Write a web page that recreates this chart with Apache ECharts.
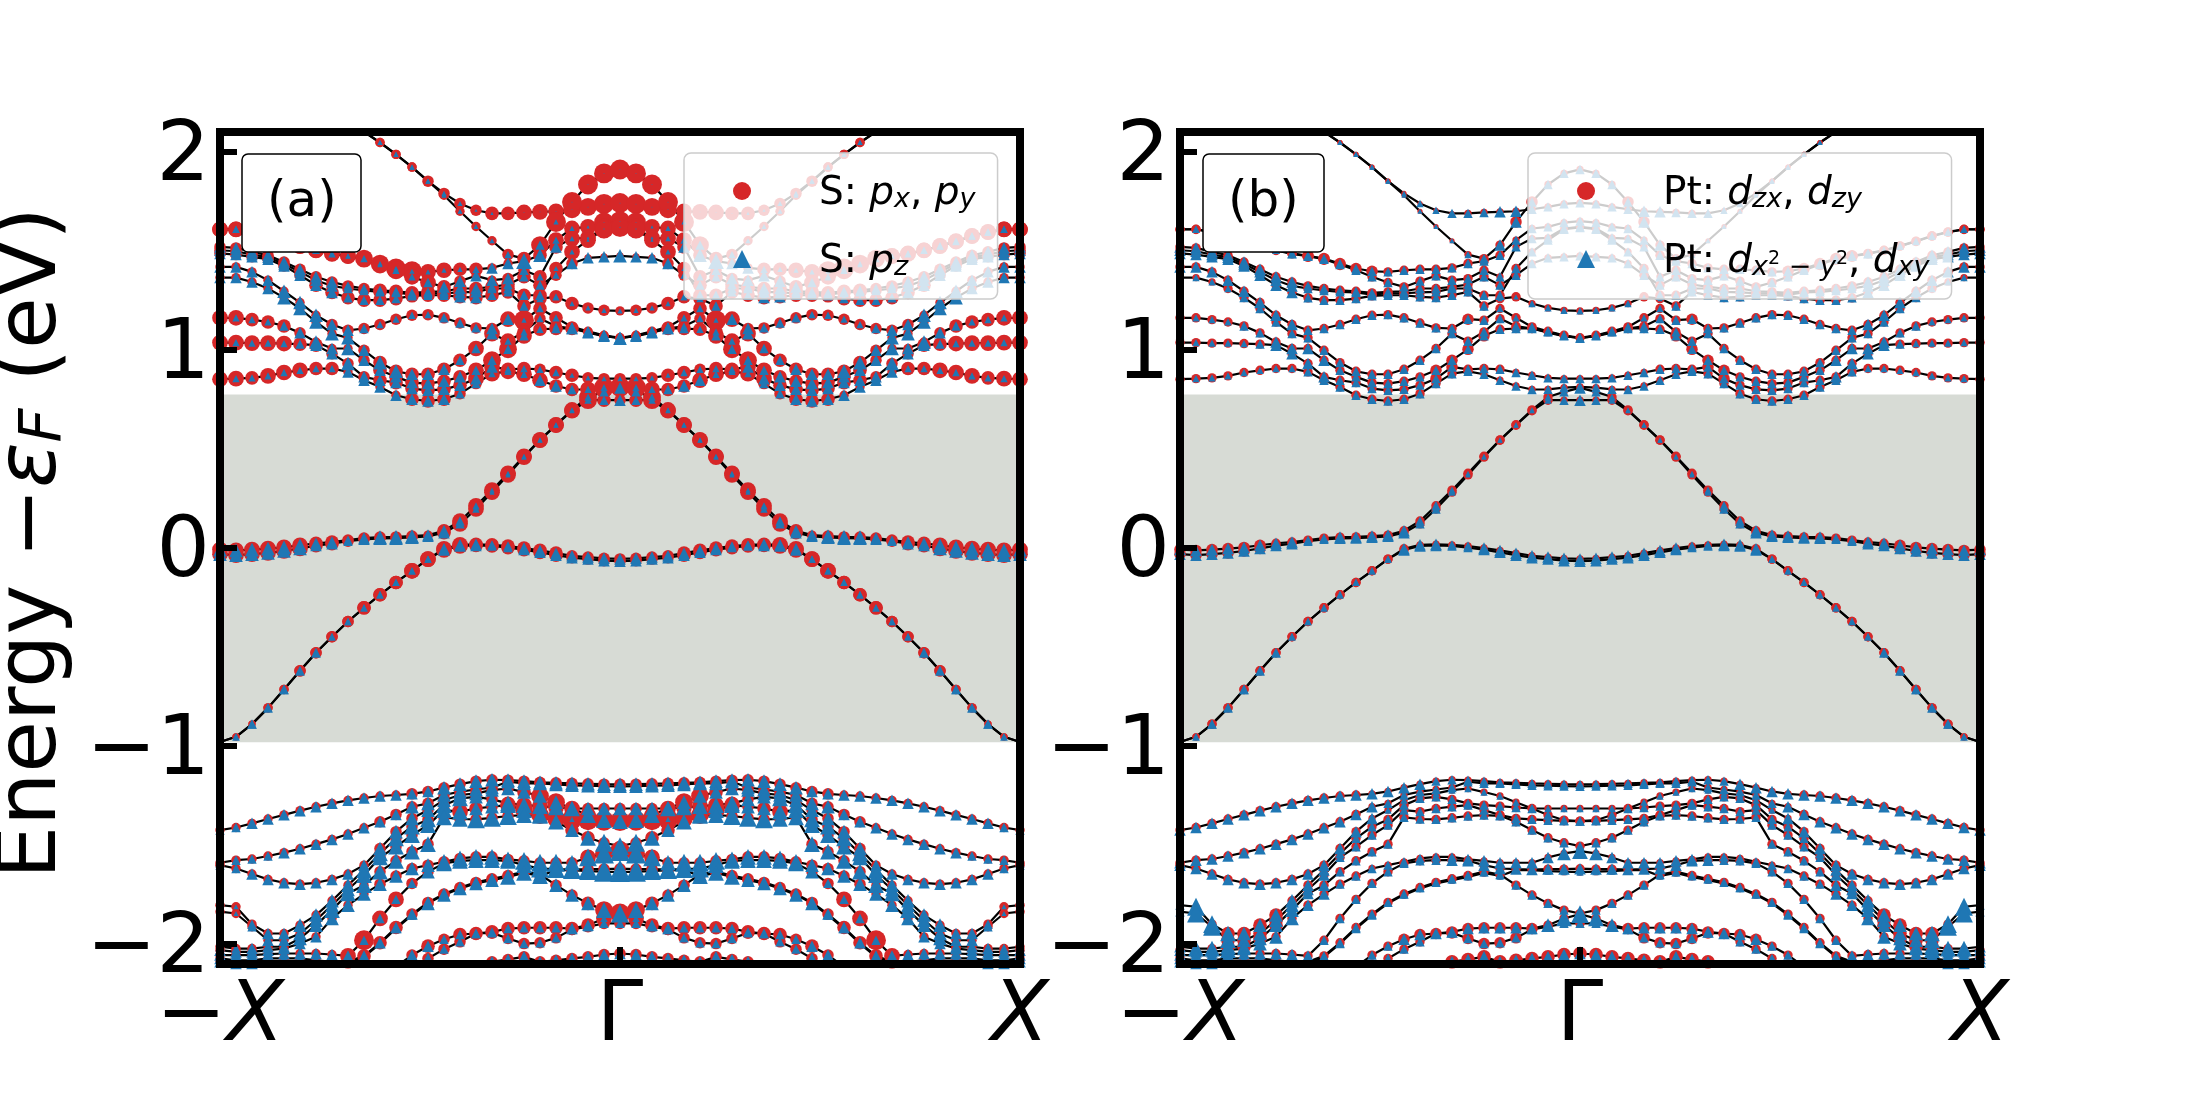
<!DOCTYPE html>
<html><head><meta charset="utf-8"><style>html,body{margin:0;padding:0;background:#fff}#c{width:2200px;height:1100px}</style>
<script src="https://cdn.jsdelivr.net/npm/echarts@6/dist/echarts.min.js"></script></head><body><div id="c"></div>
<script>
const FONT='DejaVu Sans';
const N=null;
const up1=[N,N,N,N,N,N,N,N,2.16,2.101,2.047,1.987,1.923,1.852,1.790,1.739,1.705,1.689,1.689,1.694,1.697,1.700,1.710,1.722,1.737,1.742];
const up2=[N,N,N,N,N,N,N,N,2.16,2.101,2.047,1.987,1.923,1.852,1.781,1.700,1.623,1.551,1.481,1.461,1.529,1.646,1.747,1.835,1.891,1.911];
const up3=[1.609,1.609,1.596,1.576,1.549,1.525,1.503,1.487,1.475,1.461,1.436,1.411,1.397,1.394,1.402,1.407,1.407,1.414,1.436,1.448,1.478,1.554,1.613,1.621,1.643,1.650];
const up4=[1.608,1.608,1.594,1.574,1.547,1.524,1.502,1.485,1.473,1.458,1.431,1.402,1.369,1.340,1.318,1.347,1.374,1.352,1.360,1.402,1.369,1.520,1.562,1.566,1.613,1.621];
const up5=[1.520,1.515,1.495,1.478,1.444,1.407,1.369,1.343,1.323,1.310,1.301,1.296,1.288,1.293,1.296,1.310,1.310,1.318,1.330,1.369,1.327,1.377,1.436,1.465,1.470,1.475];
const up6=[1.503,1.498,1.481,1.468,1.434,1.394,1.352,1.323,1.310,1.300,1.293,1.290,1.279,1.286,1.286,1.290,1.293,1.310,1.310,1.276,1.276,1.411,1.495,1.554,1.609,1.618];
const up7=[1.487,1.481,1.470,1.458,1.424,1.377,1.327,1.290,1.263,1.251,1.251,1.259,1.273,1.276,1.276,1.268,1.264,1.276,1.293,1.222,1.259,1.268,1.234,1.212,1.200,1.197];
const up8=[1.419,1.419,1.394,1.352,1.296,1.239,1.175,1.128,1.099,1.108,1.128,1.155,1.175,1.178,1.162,1.136,1.111,1.108,1.155,1.150,1.209,1.162,1.116,1.094,1.074,1.061];
const up9=[1.365,1.365,1.343,1.310,1.264,1.209,1.141,1.082,1.061,.998,.936,.892,.877,.877,.902,.948,1.007,1.082,1.044,1.091,1.158,1.120,1.108,1.087,1.069,1.061];
const up10=[1.162,1.162,1.153,1.141,1.121,1.086,1.040,1.007,1.007,.948,.897,.864,.835,.830,.842,.864,.897,.948,1.003,1.071,1.104,1.108,1.108,1.091,1.071,1.059];
const up11=[1.037,1.037,1.034,1.034,1.032,1.029,1.024,.981,.931,.864,.847,.835,.805,.796,.801,.822,.855,.914,.902,.906,.902,.886,.872,.859,.855,.855];
const up12=[.852,.855,.859,.869,.886,.897,.906,.906,.889,.847,.813,.771,.751,.742,.751,.779,.830,.880,.892,.877,.847,.818,.800,.801,.810,.813];
const gapA=[-.008,-.012,-.008,-.003,.003,.014,.024,.030,.040,.050,.055,.056,.060,.065,.087,.136,.213,.292,.377,.463,.546,.622,.697,.762,.788,.808];
const gapB=[-.031,-.036,-.031,-.025,-.015,-.002,.012,.022,.034,.044,.049,.050,.054,.059,.077,.122,.197,.282,.369,.459,.544,.620,.693,.746,.746,.746];
const gapC=[-.979,-.953,-.889,-.807,-.714,-.620,-.529,-.448,-.371,-.302,-.236,-.174,-.115,-.056,-.004,.016,.019,.016,.010,0,-.012,-.026,-.039,-.046,-.052,-.055];
const gapD=[-.979,-.953,-.889,-.807,-.714,-.620,-.529,-.448,-.371,-.302,-.236,-.174,-.115,-.056,-.010,.010,.013,.010,.002,-.008,-.022,-.036,-.049,-.056,-.064,-.067];
const low1=[-1.424,-1.411,-1.390,-1.368,-1.347,-1.326,-1.306,-1.289,-1.274,-1.262,-1.252,-1.247,-1.241,-1.229,-1.210,-1.192,-1.177,-1.170,-1.172,-1.177,-1.183,-1.185,-1.188,-1.190,-1.192,-1.193];
const low2=[-1.589,-1.576,-1.570,-1.555,-1.538,-1.518,-1.495,-1.471,-1.444,-1.412,-1.382,-1.345,-1.306,-1.289,-1.247,-1.230,-1.219,-1.209,-1.180,-1.188,-1.188,-1.193,-1.198,-1.200,-1.202,-1.203];
const low3=[-1.601,-1.618,-1.646,-1.673,-1.690,-1.697,-1.690,-1.673,-1.646,-1.601,-1.517,-1.432,-1.365,-1.323,-1.273,-1.247,-1.239,-1.222,-1.214,-1.232,-1.252,-1.283,-1.315,-1.315,-1.315,-1.315];
const low4=[-1.803,-1.811,-1.899,-1.946,-1.946,-1.904,-1.853,-1.781,-1.702,-1.626,-1.542,-1.466,-1.407,-1.370,-1.298,-1.264,-1.256,-1.269,-1.289,-1.298,-1.303,-1.310,-1.315,-1.348,-1.374,-1.379];
const low5=[-1.836,-1.845,-1.912,-1.980,-1.980,-1.946,-1.879,-1.803,-1.724,-1.651,-1.562,-1.508,-1.449,-1.399,-1.323,-1.331,-1.315,-1.306,-1.298,-1.323,-1.348,-1.365,-1.370,-1.374,-1.377,-1.379];
const low6=[-2.013,-2.022,-2.022,-2.013,-2.013,-1.971,-1.904,-1.828,-1.744,-1.702,-1.634,-1.579,-1.533,-1.495,-1.360,-1.368,-1.370,-1.362,-1.353,-1.348,-1.352,-1.382,-1.424,-1.463,-1.488,-1.505];
const low7=[-2.030,-2.039,-2.039,-2.030,-2.022,-1.997,-1.963,-1.870,-1.803,-1.747,-1.697,-1.656,-1.618,-1.601,-1.584,-1.567,-1.559,-1.559,-1.572,-1.579,-1.589,-1.589,-1.589,-1.562,-1.542,-1.530];
const low8=[-2.055,-2.055,-2.055,-2.050,-2.047,-2.047,-2.047,-2.052,-2.059,-1.980,-1.870,-1.774,-1.693,-1.634,-1.592,-1.579,-1.576,-1.576,-1.579,-1.601,-1.618,-1.621,-1.623,-1.621,-1.621,-1.619];
const low9=[-2.072,-2.081,-2.081,-2.072,-2.072,-2.072,-2.081,-2.089,-2.089,-2.059,-1.993,-1.916,-1.848,-1.789,-1.747,-1.714,-1.688,-1.670,-1.653,-1.634,-1.648,-1.702,-1.752,-1.794,-1.828,-1.845];
const low10=[-2.089,-2.097,-2.097,-2.089,-2.089,-2.114,-2.114,-2.114,-2.114,-2.114,-2.114,-2.114,-2.055,-2.010,-1.975,-1.951,-1.946,-1.938,-1.921,-1.917,-1.917,-1.917,-1.921,-1.904,-1.870,-1.848];
const low11=[-2.131,-2.131,-2.131,-2.131,-2.131,-2.131,-2.131,-2.131,-2.131,-2.131,-2.131,-2.131,-2.131,-2.072,-2.025,-1.988,-1.946,-1.943,-1.971,-1.997,-1.993,-1.968,-1.926,-1.912,-1.895,-1.895];
const low12=[-2.165,-2.165,-2.165,-2.165,-2.165,-2.165,-2.165,-2.165,-2.165,-2.165,-2.165,-2.165,-2.165,-2.165,-2.131,-2.114,-2.106,-2.089,-2.077,-2.064,-2.089,-2.081,-2.072,-2.064,-2.052,-2.047];
const low13=[N,N,N,N,N,N,N,-2.131,-2.097,-2.064,-1.997,-1.921,-1.853,-1.794,-1.751,-1.719,-1.693,-1.677,-1.660,-1.640,-1.656,-1.626,-1.626,-1.631,-1.634,-1.636];
const halfBands=[up1,up2,up3,up4,up5,up6,up7,up8,up9,up10,up11,up12,gapA,gapB,gapC,gapD,low1,low2,low3,low4,low5,low6,low7,low8,low9,low10,low11,low12,low13];

// weights per band, one digit per k point from -X to Gamma
const weightsA_red=[
'00000000444445555667778899','00000000444444444456899999','77777777788997766445677799','77777777778877654455667799',
'55555555556666666666655333','55555555556666666666667788','55555566666666666666666554','44444445555555555579665444',
'44444444456666667776555444','77666544456666667887666444','77777665556666667766566555','77677766444466655777766799',
'77777766555554677777777865','77777766555554677777777865','33344555566677776666665555','33344555566677776666665555',
'44444444444455555555555555','44444444445555555555555555','44444444445555555556887555','44444444445555555567776777',
'44444444445555576578889999','44444444445555555555666655','44444444445555555555555789','44444444797755555555555555',
'44444444666655555555555689','44444444444456566666666678','44444444444445555555555555','44444444444444555555555555','00000004444445555555555555'];
const weightsA_blue=[
'00000000222222221100000000','00000000222222222233420000','33333332232222223557632100','33333333222334555554352100',
'55555555444444455444435556','55555555444444455444422100','55555555444444455444332222','55556665543333444552334455',
'55556666656655544533335555','33334565655555554444345556','33333455655555555533332222','33333333555555544333554333',
'66666655456665543222222345','66666655456665543222222345','33444443333333555445555555','33444443333333555445555555',
'44555555555555666666666666','44445555555566666666666666','44555555556666666666666666','22455666677777776677777777',
'22455666677777776677732222','44555667777777778887776788','55555556666666777778887899','55555555544446777777888888',
'55555555555555555555666678','55555555555555444444445533','55555555555555444444444444','55555777755555555555555555','00000004444446666677778899'];
const weightsB_red=[
'00000000222222222233333333','00000000222222222234455333','44444444555554444444433333','44444444555444444444333333',
'44444444444444444444443333','44444444444444444444443333','44444444444444444444443333','44444444444444444454444444',
'33344444444444444444444333','44444444444444445555444333','44444444444444445544433333','44444444444444444443333333',
'55555544444444444444444433','55555544444444444444444433','33444444444444433333333333','33444444444444433333333333',
'44444444444433333333333333','44444444444433333333333333','44444444444433333333333333','33466664444444444444444444',
'33466664444444444444444444','33466664444444444444444444','44444444444433333333333333','44444444444444444444444444',
'44444444444444444444444444','44444444444444555555555444','44444444444444444555554444','55555555555555555666666666','00000003333333333333333333'];
const weightsB_blue=[
'00000000222222233444554444','00000000222222222234554444','33333334444444444444444444','33333334444444444444444444',
'55555555444444444444444444','55555555444444444444444444','55555555444444444444223333','55555555444444444444334444',
'33334444444444444444443333','33334455554444444444444444','33333455554444444444444444','33333333444444444444444444',
'55555555445555544322222345','55555555445555544322222345','33444443333333555445555555','33444443333333555445555555',
'55555555555555554444444444','55555555555554444444444444','55555555555553333333333333','48876666554444444444444444',
'48876666554444444444444444','57776666554444444444444444','55576666554444444455555567','55555555544444444555555555',
'55555555544444444444444444','55555555544444555555555678','55555555555554444444444444','77776665555555555555555555','00000004444443333333333333'];

const tickLabelsX={'-1':'{m|−}{i|X}','0':'{m|Γ}','1':'{i|X}'};
const tickValuesY=[-2,-1,0,1,2];
const gapRange=[-0.98,0.775];
const namesA=['S: px, py','S: pz'];
const namesB=['Pt: dzx, dzy','Pt: dx2-y2, dxy'];
const legendRich={
 '_':{width:63,height:44},
 n:{fontFamily:FONT,fontSize:39,color:'#000',lineHeight:44,verticalAlign:'bottom'},
 i:{fontFamily:FONT,fontSize:39,fontStyle:'italic',color:'#000',lineHeight:44,verticalAlign:'bottom'},
 c:{fontFamily:FONT,fontSize:39,color:'#000',lineHeight:44,verticalAlign:'bottom'},
 s:{fontFamily:FONT,fontSize:27,fontStyle:'italic',color:'#000',lineHeight:27,verticalAlign:'bottom'},
 u:{fontFamily:FONT,fontSize:19,color:'#000',lineHeight:44,verticalAlign:'middle'}
};
const legendText={
 'S: px, py':'{_|}{n|S: }{i|p}{s|x}{c|, }{i|p}{s|y}',
 'S: pz':'{_|}{n|S: }{i|p}{s|z}',
 'Pt: dzx, dzy':'{_|}{n|Pt: }{i|d}{s|zx}{c|, }{i|d}{s|zy}',
 'Pt: dx2-y2, dxy':'{_|}{n|Pt: }{i|d}{s|x}{u|2}{s| − y}{u|2}{c|, }{i|d}{s|xy}'
};

const full=h=>h.concat(h.slice(0,-1).reverse());
const kPoints=new Array(51).fill(0).map((v,i)=>i/25-1);
const RED='#d62728',BLUE='#1f77b4';

function scatterData(weights){
  const out=[];
  halfBands.forEach((b,j)=>{
    const e=full(b),w=full(weights[j].split('').map(Number));
    e.forEach((v,i)=>{ if(v!==null) out.push([kPoints[i],v,1+2.1*w[i]]); });
  });
  return out;
}
function panelSeries(g,names,wr,wb){
  const s=[{type:'line',xAxisIndex:g*2,yAxisIndex:g*2,data:[],z:1,silent:true,
    markArea:{silent:true,itemStyle:{color:'#d7dbd5',opacity:1},data:[[{yAxis:gapRange[0]},{yAxis:gapRange[1]}]]}}];
  halfBands.forEach(b=>{
    s.push({type:'line',xAxisIndex:g*2,yAxisIndex:g*2,z:3,silent:true,showSymbol:false,symbol:'none',
      lineStyle:{color:'#000',width:2.2},data:full(b).map((v,i)=>[kPoints[i],v]),connectNulls:false});
  });
  s.push({type:'scatter',name:names[0],xAxisIndex:g*2,yAxisIndex:g*2,z:4,silent:true,symbol:'circle',
    itemStyle:{color:RED,opacity:1},symbolSize:v=>v[2],data:scatterData(wr)});
  s.push({type:'scatter',name:names[1],xAxisIndex:g*2,yAxisIndex:g*2,z:5,silent:true,symbol:'triangle',
    itemStyle:{color:BLUE,opacity:1},symbolSize:v=>v[2],data:scatterData(wb)});
  return s;
}
const line={show:true,onZero:false,lineStyle:{color:'#000',width:8,cap:'square'}};
function axes(g,withName){
  const x=[{type:'value',gridIndex:g,min:-1,max:1,interval:1,position:'bottom',z:50,splitLine:{show:false},axisLine:line,
      axisTick:{show:true,inside:true,length:17,lineStyle:{color:'#000',width:6}},
      axisLabel:{show:true,margin:12,showMinLabel:true,showMaxLabel:true,hideOverlap:false,formatter:v=>tickLabelsX[String(v)],
        rich:{m:{fontFamily:FONT,fontSize:84,color:'#000'},i:{fontFamily:FONT,fontSize:84,fontStyle:'italic',color:'#000'}}}},
    {type:'value',gridIndex:g,min:-1,max:1,interval:1,position:'top',z:50,splitLine:{show:false},axisLine:line,axisTick:{show:false},axisLabel:{show:false}}];
  const y=[{type:'value',gridIndex:g,min:-2.1,max:2.1,position:'left',z:50,splitLine:{show:false},axisLine:line,
      axisTick:{show:true,inside:true,length:17,lineStyle:{color:'#000',width:6},customValues:tickValuesY},
      axisLabel:{show:true,margin:10,customValues:tickValuesY,formatter:v=>'{v|'+String(v).replace('-','−')+'}',
        rich:{v:{color:'#000',fontFamily:FONT,fontSize:84,padding:[12,0,0,0]}}}},
    {type:'value',gridIndex:g,min:-2.1,max:2.1,position:'right',z:50,splitLine:{show:false},axisLine:line,axisTick:{show:false},axisLabel:{show:false}}];
  if(withName){
    y[0].name='{t|Energy −}{e|ε}{s|F}{t| (eV)}';
    y[0].nameLocation='middle';y[0].nameRotate=90;y[0].nameGap=145;
    y[0].nameTextStyle={padding:[0,0,0,10],rich:{
      t:{fontFamily:FONT,fontSize:84,color:'#000',lineHeight:100,verticalAlign:'bottom'},
      e:{fontFamily:FONT,fontSize:84,fontStyle:'italic',color:'#000',lineHeight:100,verticalAlign:'bottom'},
      s:{fontFamily:FONT,fontSize:59,fontStyle:'italic',color:'#000',lineHeight:62,verticalAlign:'bottom'}}};
  }
  return {x,y};
}
const a0=axes(0,true),a1=axes(1,false);
const legendBase={z:60,orient:'vertical',itemWidth:18,itemHeight:18,itemGap:29,top:153,backgroundColor:'rgba(255,255,255,0.8)',
  borderColor:'#cccccc',borderWidth:1.5,borderRadius:7,padding:[21,22,18,49],inactiveColor:'#000',selectedMode:false,
  formatter:n=>legendText[n],textStyle:{rich:legendRich}};
const labelBase={z:60,top:154,padding:[24,25,24,25],backgroundColor:'#fff',borderColor:'#000',borderWidth:1.5,borderRadius:6,
  textStyle:{fontFamily:FONT,fontSize:50,fontWeight:'normal',color:'#000',lineHeight:50}};
const chart=echarts.init(document.getElementById('c'),null,{renderer:'canvas'});
chart.setOption({
  animation:false,backgroundColor:'#fff',
  title:[Object.assign({text:'(a)',left:242},labelBase),Object.assign({text:'(b)',left:1203},labelBase)],
  grid:[{left:220,right:1180,top:132,height:832,containLabel:false,outerBoundsMode:'none'},{left:1180,right:220,top:132,height:832,containLabel:false,outerBoundsMode:'none'}],
  xAxis:a0.x.concat(a1.x),yAxis:a0.y.concat(a1.y),
  legend:[Object.assign({left:684,data:namesA},legendBase),Object.assign({left:1528,data:namesB},legendBase)],
  series:panelSeries(0,namesA,weightsA_red,weightsA_blue).concat(panelSeries(1,namesB,weightsB_red,weightsB_blue))
});
</script></body></html>
